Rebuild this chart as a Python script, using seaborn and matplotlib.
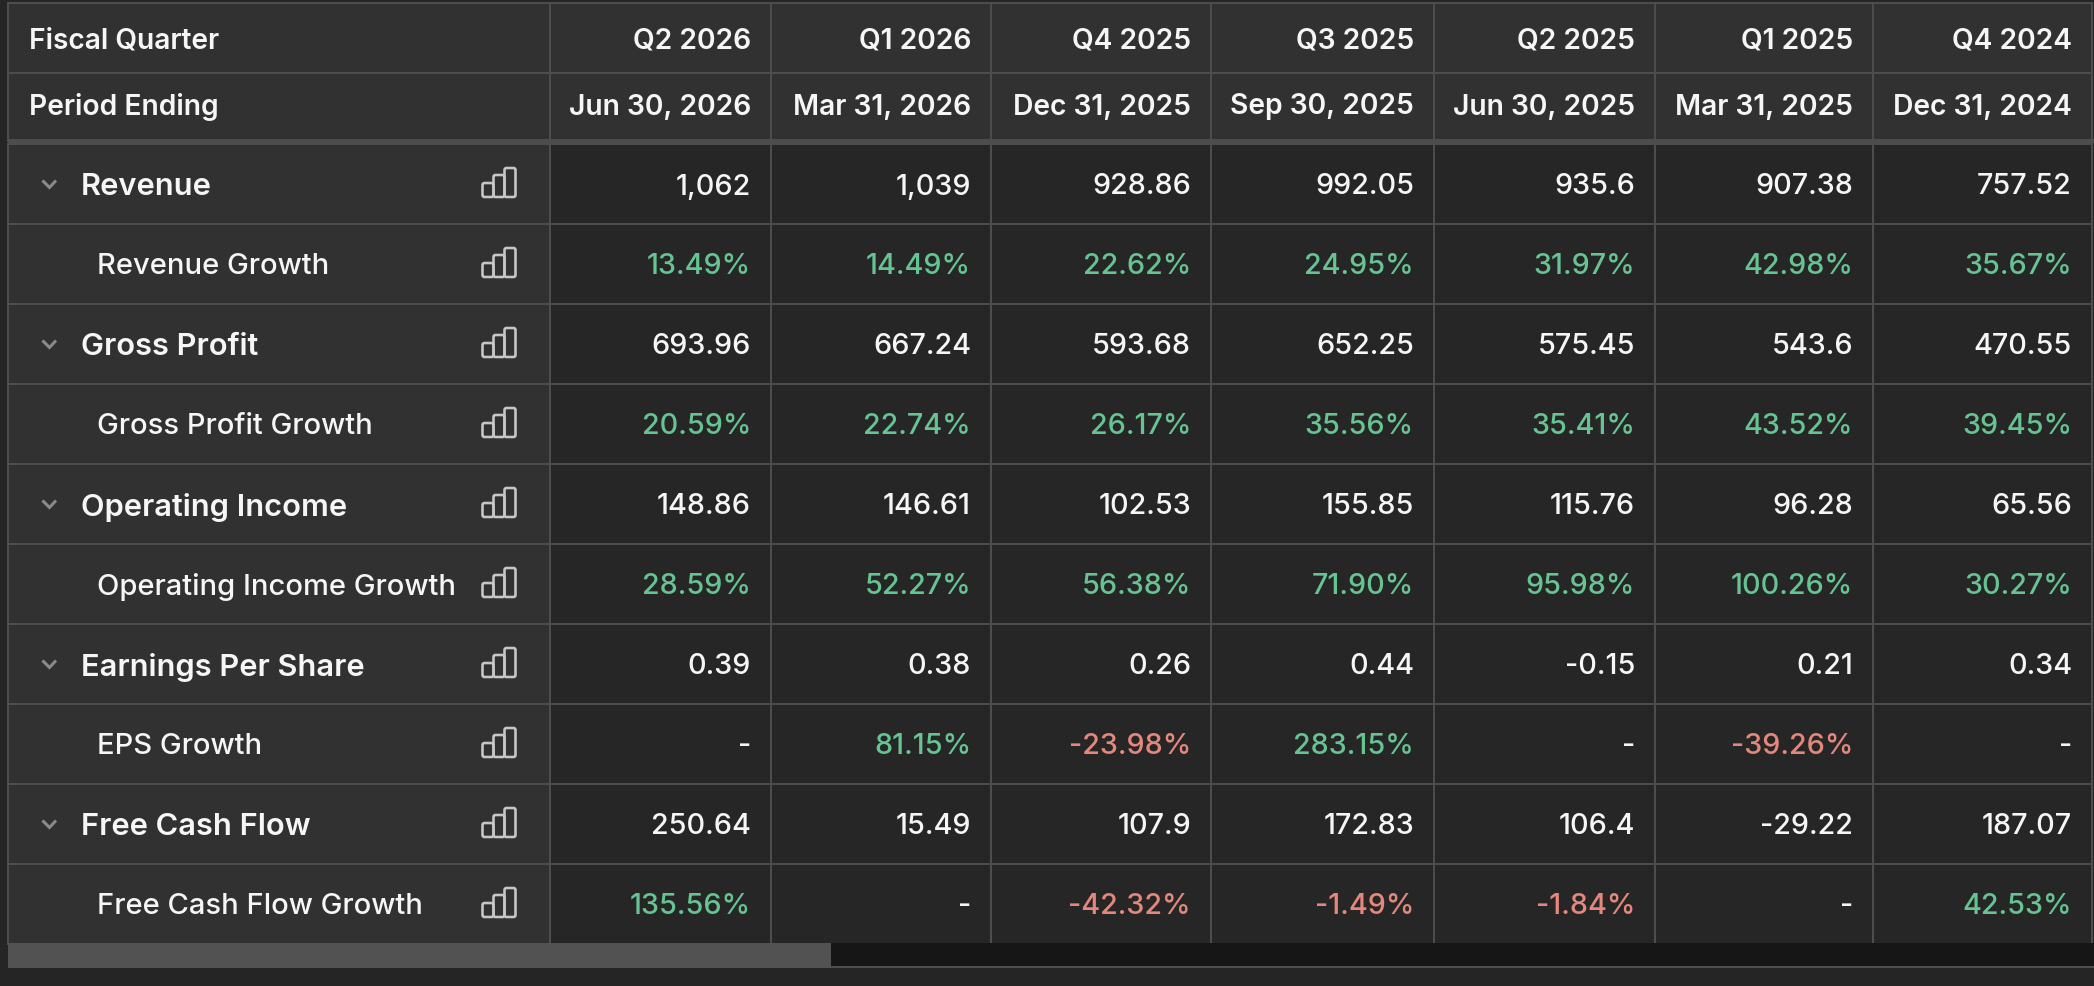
import numpy as np
import pandas as pd
import matplotlib
matplotlib.use('Agg')
import matplotlib.pyplot as plt
import seaborn as sns
from matplotlib.colors import ListedColormap
from matplotlib.patches import FancyBboxPatch, Rectangle

# table content
quarters = ['Q2 2026', 'Q1 2026', 'Q4 2025', 'Q3 2025', 'Q2 2025', 'Q1 2025', 'Q4 2024']
periods = ['Jun 30, 2026', 'Mar 31, 2026', 'Dec 31, 2025', 'Sep 30, 2025',
           'Jun 30, 2025', 'Mar 31, 2025', 'Dec 31, 2024']
metrics = ['Revenue', 'Revenue Growth', 'Gross Profit', 'Gross Profit Growth',
           'Operating Income', 'Operating Income Growth', 'Earnings Per Share',
           'EPS Growth', 'Free Cash Flow', 'Free Cash Flow Growth']

revenue = ['1,062', '1,039', '928.86', '992.05', '935.6', '907.38', '757.52']
revenue_growth = ['13.49%', '14.49%', '22.62%', '24.95%', '31.97%', '42.98%', '35.67%']
gross_profit = ['693.96', '667.24', '593.68', '652.25', '575.45', '543.6', '470.55']
gross_growth = ['20.59%', '22.74%', '26.17%', '35.56%', '35.41%', '43.52%', '39.45%']
op_income = ['148.86', '146.61', '102.53', '155.85', '115.76', '96.28', '65.56']
op_growth = ['28.59%', '52.27%', '56.38%', '71.90%', '95.98%', '100.26%', '30.27%']
eps = ['0.39', '0.38', '0.26', '0.44', '-0.15', '0.21', '0.34']
eps_growth = ['-', '81.15%', '-23.98%', '283.15%', '-', '-39.26%', '-']
fcf = ['250.64', '15.49', '107.9', '172.83', '106.4', '-29.22', '187.07']
fcf_growth = ['135.56%', '-', '-42.32%', '-1.49%', '-1.84%', '-', '42.53%']

rows = [revenue, revenue_growth, gross_profit, gross_growth, op_income,
        op_growth, eps, eps_growth, fcf, fcf_growth]
table = pd.DataFrame(rows, index=metrics, columns=quarters)

# colours
PAGE = '#252525'
PANEL = '#313131'
BODY = '#262626'
LINE = '#4d4d4d'
WHITE = '#f6f6f6'
GREEN = '#66c492'
RED = '#e4877c'
ICON = '#c6c6c6'
CHEVRON = '#8a8a8a'

# layout in image pixels
W, H = 2094, 986
col_edges = [8, 550, 771, 991, 1211, 1434, 1655, 1873, 2092]
head_edges = [3, 73, 141]
head_shift = [3, 0]
body_top, body_bottom = 143.5, 943.5
PAD = 20
LW = 2 * 72 / 100

sns.set_theme(style='dark')
plt.rcParams['font.family'] = ['Inter', 'DejaVu Sans']

fig = plt.figure(figsize=(W / 100, H / 100), dpi=100, facecolor=PAGE)


def add_box(x0, x1, y0, y1):
    return fig.add_axes([x0 / W, 1 - y1 / H, (x1 - x0) / W, (y1 - y0) / H])


def draw_cells(ax, labels, fill):
    # one column heatmap, the annotations are the table text
    labels = np.array(labels, dtype=object).reshape(-1, 1)
    sns.heatmap(np.zeros(labels.shape), ax=ax, cmap=ListedColormap([fill]), cbar=False,
                annot=labels, fmt='', linewidths=LW, linecolor=LINE,
                xticklabels=False, yticklabels=False,
                annot_kws={'fontsize': 20.7, 'color': WHITE, 'fontweight': 500})
    for side in ax.spines.values():
        side.set_visible(True)
        side.set_color(LINE)
        side.set_linewidth(LW)
    ax.set_xlabel('')
    ax.set_ylabel('')


def value_color(text):
    if text.endswith('%'):
        return RED if text.startswith('-') else GREEN
    return WHITE


# header rows
for r, (first, row) in enumerate(zip(['Fiscal Quarter', 'Period Ending'], [quarters, periods])):
    y0, y1 = head_edges[r], head_edges[r + 1]
    ax = add_box(col_edges[0], col_edges[1], y0, y1)
    draw_cells(ax, [first], PANEL)
    for t in ax.texts:
        t.set_ha('left')
        t.set_x(21 / (col_edges[1] - col_edges[0]))
        t.set_y(t.get_position()[1] + head_shift[r] / (y1 - y0))
        t.set_fontweight(600)
        t.set_fontsize(20.3)
    for c, name in enumerate(row):
        ax = add_box(col_edges[c + 1], col_edges[c + 2], y0, y1)
        draw_cells(ax, [name], PANEL)
        for t in ax.texts:
            t.set_ha('right')
            t.set_x(1 - PAD / (col_edges[c + 2] - col_edges[c + 1]))
            t.set_y(t.get_position()[1] + head_shift[r] / (y1 - y0))
            t.set_fontweight(600)
            t.set_fontsize(20.3)

row_h = (body_bottom - body_top) / len(metrics)

# metric names
ax = add_box(col_edges[0], col_edges[1], body_top, body_bottom)
draw_cells(ax, metrics, PANEL)
name_w = col_edges[1] - col_edges[0]
for i, t in enumerate(ax.texts):
    t.set_ha('left')
    t.set_y(t.get_position()[1] + 3.5 / row_h)
    if i % 2 == 0:
        t.set_x(73 / name_w)
        t.set_fontweight(600)
        t.set_fontsize(22.2)
    else:
        t.set_x(89 / name_w)
        t.set_fontsize(21)

# value columns
for c, quarter in enumerate(quarters):
    ax = add_box(col_edges[c + 1], col_edges[c + 2], body_top, body_bottom)
    draw_cells(ax, table[quarter].tolist(), BODY)
    for t in ax.texts:
        t.set_ha('right')
        t.set_x(1 - PAD / (col_edges[c + 2] - col_edges[c + 1]))
        t.set_y(t.get_position()[1] + 3.5 / row_h)
        t.set_color(value_color(t.get_text()))

# overlay in pixels for the icons and the scroll bar
over = fig.add_axes([0, 0, 1, 1], facecolor='none')
over.set_xlim(0, W)
over.set_ylim(H, 0)
over.axis('off')

# heavier rule under the header
over.add_patch(Rectangle((col_edges[0], 139), W - col_edges[0], 4, color=LINE, lw=0))

for i in range(len(metrics)):
    mid = body_top + row_h * (i + 0.5)
    base = mid + 13.5
    for bx, top in zip([482.5, 493.5, 504.5], [mid - 0.5, mid - 8.5, mid - 15.5]):
        over.add_patch(FancyBboxPatch((bx, top), 11, base - top,
                                      boxstyle='round,pad=0,rounding_size=2',
                                      fc='none', ec=ICON, lw=2.6 * 72 / 100))
    if i % 2 == 0:
        over.plot([42.5, 49.5, 56], [mid - 3, mid + 4, mid - 3], color=CHEVRON, lw=3 * 72 / 100,
                  solid_capstyle='butt', solid_joinstyle='miter')

# scroll bar
over.add_patch(Rectangle((col_edges[0], 943), W - col_edges[0], 24, color='#161616', lw=0))
over.add_patch(Rectangle((col_edges[0], 966), W - col_edges[0], 2, color=LINE, lw=0))
over.add_patch(Rectangle((col_edges[0], 943), 823, 25, color='#525252', lw=0))

fig.savefig('out.png', dpi=100, facecolor=PAGE)
